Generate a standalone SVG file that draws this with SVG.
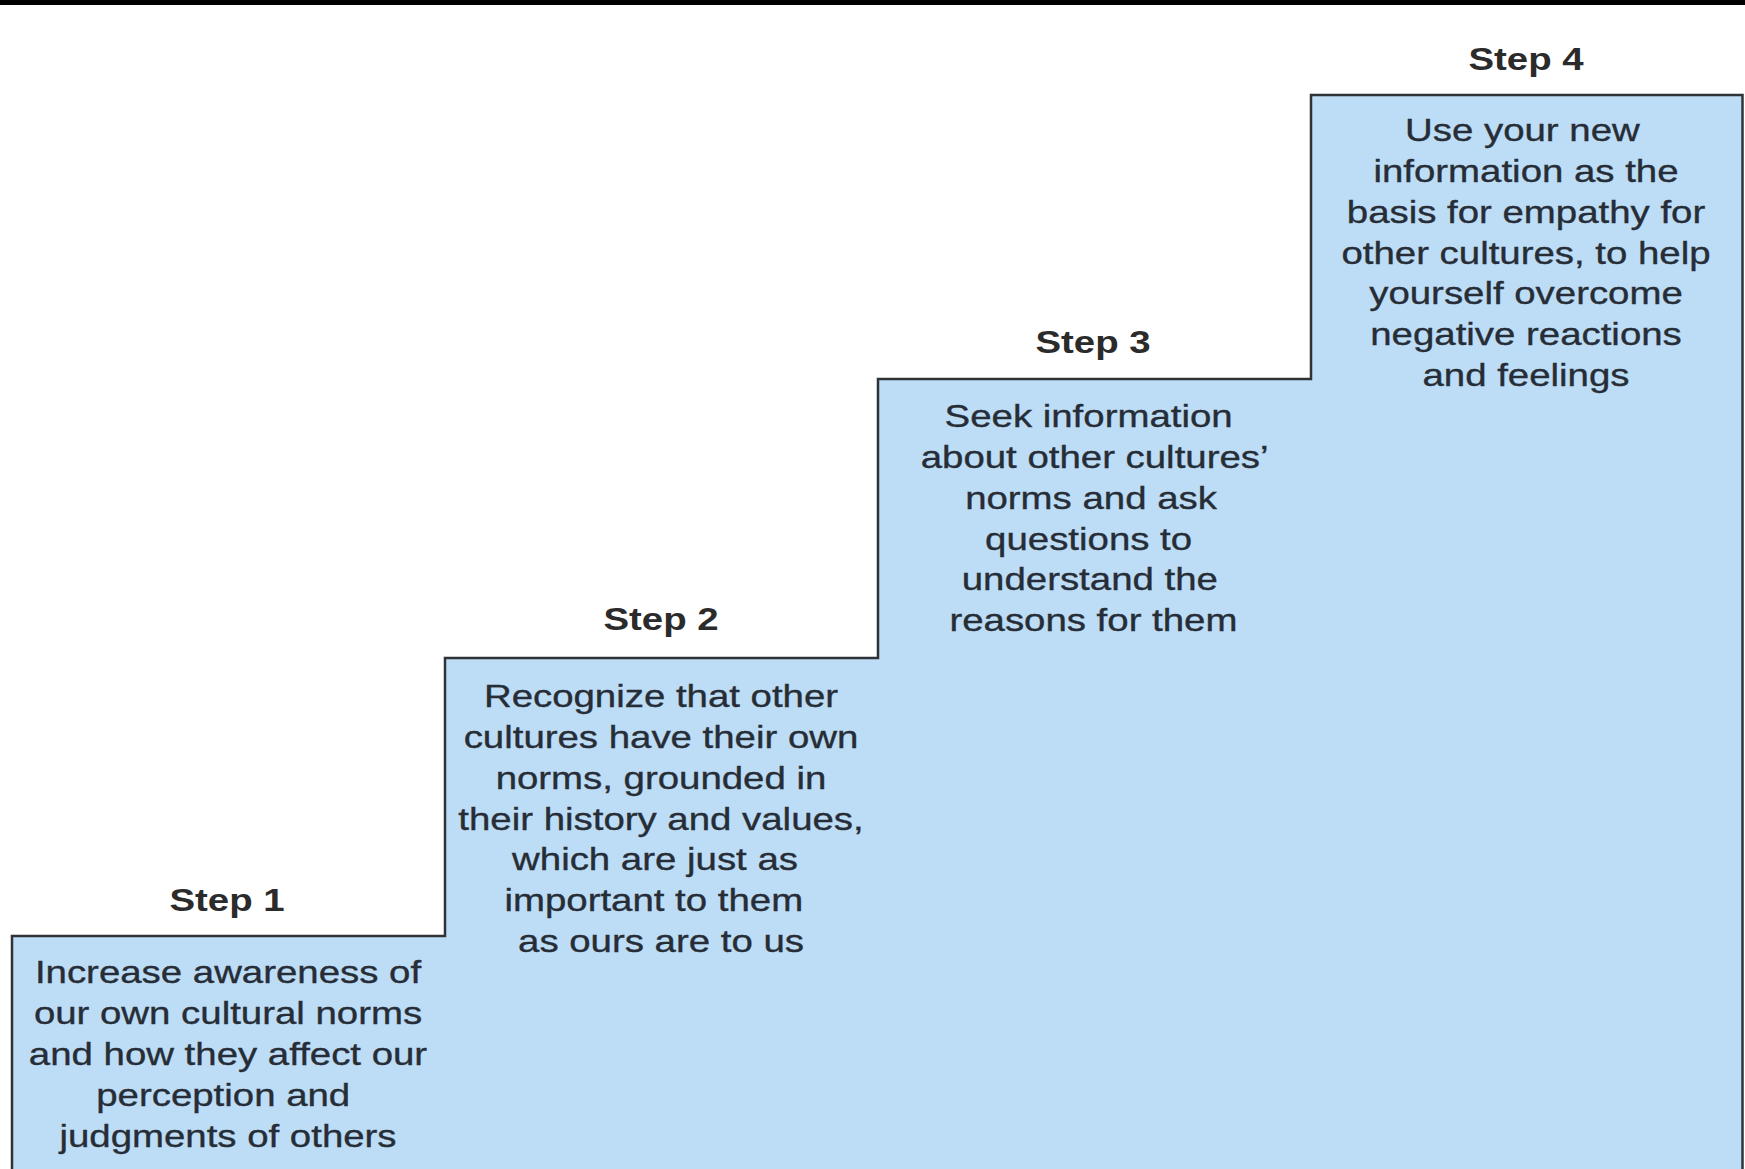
<svg xmlns="http://www.w3.org/2000/svg" width="1745" height="1169" viewBox="0 0 1745 1169">
  <style>
    .fill { fill: #bddcf5; stroke: none; }
    .outline { fill: none; stroke: #2f3338; stroke-width: 2.5; stroke-linejoin: miter; }
    .lbl { font-family: "Liberation Sans", Arial, sans-serif; font-size: 32px; font-weight: bold; fill: #2b2b2b; text-anchor: middle; }
    .body { font-family: "Liberation Sans", Arial, sans-serif; font-size: 32px; fill: #262d36; stroke: #262d36; stroke-width: 0.35; text-anchor: middle; }
  </style>
  <rect x="0" y="0" width="1745" height="1169" fill="#ffffff"/>
  <rect x="0" y="0" width="1745" height="5" fill="#000000"/>

  <g id="step1">
    <rect class="fill" x="12" y="936" width="433" height="233"/>
    <text class="lbl" transform="translate(227,0) scale(1.2,1)"><tspan x="0" y="911">Step 1</tspan></text>
    <text class="body" transform="translate(228,0) scale(1.2,1)"><tspan x="0" y="983">Increase awareness of</tspan><tspan x="0" y="1024">our own cultural norms</tspan><tspan x="0" y="1065">and how they affect our</tspan><tspan x="-4" y="1106">perception and</tspan><tspan x="0" y="1147">judgments of others</tspan></text>
  </g>

  <g id="step2">
    <rect class="fill" x="445" y="658" width="433" height="511"/>
    <text class="lbl" transform="translate(661,0) scale(1.2,1)"><tspan x="0" y="630">Step 2</tspan></text>
    <text class="body" transform="translate(661,0) scale(1.2,1)"><tspan x="0" y="707">Recognize that other</tspan><tspan x="0" y="748">cultures have their own</tspan><tspan x="0" y="789">norms, grounded in</tspan><tspan x="0" y="830">their history and values,</tspan><tspan x="-5" y="870">which are just as</tspan><tspan x="-6" y="911">important to them</tspan><tspan x="0" y="952">as ours are to us</tspan></text>
  </g>

  <g id="step3">
    <rect class="fill" x="878" y="379" width="433" height="790"/>
    <text class="lbl" transform="translate(1093,0) scale(1.2,1)"><tspan x="0" y="353">Step 3</tspan></text>
    <text class="body" transform="translate(1091,0) scale(1.2,1)"><tspan x="-2" y="427">Seek information</tspan><tspan x="3" y="468">about other cultures’</tspan><tspan x="0" y="509">norms and ask</tspan><tspan x="-2" y="550">questions to</tspan><tspan x="-1" y="590">understand the</tspan><tspan x="2" y="631">reasons for them</tspan></text>
  </g>

  <g id="step4">
    <rect class="fill" x="1311" y="95" width="432" height="1074"/>
    <text class="lbl" transform="translate(1526,0) scale(1.2,1)"><tspan x="0" y="70">Step 4</tspan></text>
    <text class="body" transform="translate(1526,0) scale(1.2,1)"><tspan x="-3" y="141">Use your new</tspan><tspan x="0" y="182">information as the</tspan><tspan x="0" y="223">basis for empathy for</tspan><tspan x="0" y="264">other cultures, to help</tspan><tspan x="0" y="304">yourself overcome</tspan><tspan x="0" y="345">negative reactions</tspan><tspan x="0" y="386">and feelings</tspan></text>
  </g>

  <g id="connectors">
    <path class="outline" d="M12,1169 V936 H445 V658 H878 V379 H1311 V95 H1742.5 V1169"/>
  </g>
</svg>
